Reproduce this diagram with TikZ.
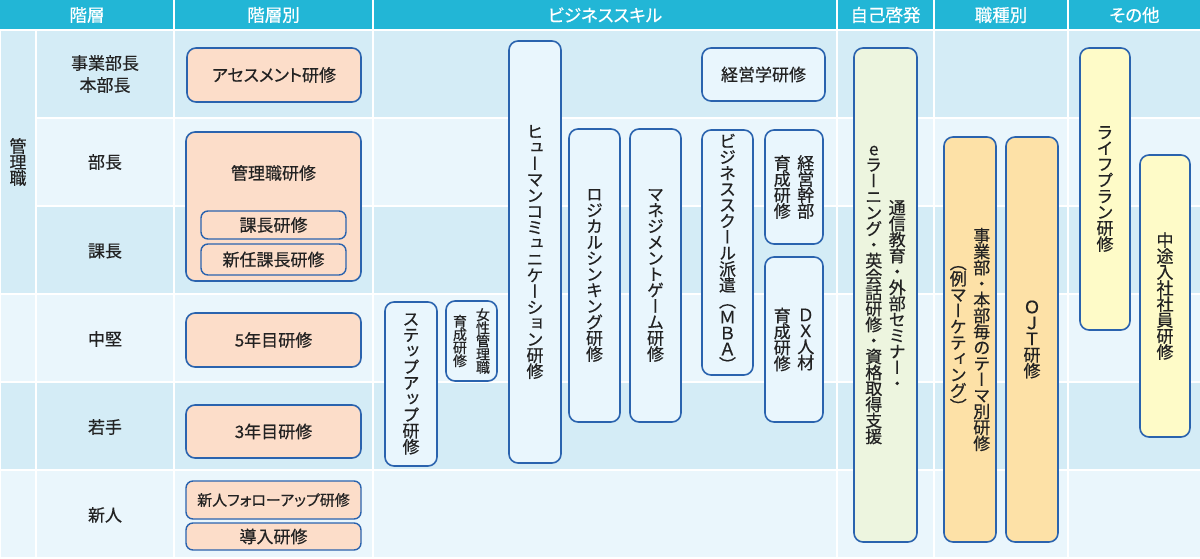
\documentclass[tikz,border=0pt]{standalone}
\usepackage{fontspec}
\setmainfont{Noto Sans CJK JP}[RawFeature=+palt,FakeBold=0.5]
\newfontfamily\tatefont{Noto Sans CJK JP}[RawFeature=+vert,FakeBold=0.5]
\usepackage{tikz}
\definecolor{hdrcyan}{HTML}{22B6D6}
\definecolor{rowdark}{HTML}{D4ECF6}
\definecolor{rowlight}{HTML}{EAF6FC}
\definecolor{lineblue}{HTML}{2A63AE}
\definecolor{peach}{HTML}{FCDDC9}
\definecolor{skyfill}{HTML}{E9F6FD}
\definecolor{greenfill}{HTML}{EDF5DF}
\definecolor{orangefill}{HTML}{FDE1A7}
\definecolor{yellowfill}{HTML}{FEFBC8}
\definecolor{inkgray}{HTML}{222222}
\makeatletter
\newcommand{\tate}[1]{\vbox{\tatefont\baselineskip=0.94em\lineskiplimit=-\maxdimen\lineskip=0pt\tate@loop#1\@nil}}
\def\tate@loop#1{\ifx\@nil#1\else\hbox to 1em{\hss#1\hss}\expandafter\tate@loop\fi}
\makeatother
\newcommand{\tatetwo}[3][6.5pt]{\hbox{$\vcenter{\tate{#3}}\hskip#1\vcenter{\tate{#2}}$}}
\newcommand{\cell}[5]{\fill[#1] (#2,#3) rectangle (#4,#5);}
\newcommand{\band}[3]{\cell{#1}{37}{#2}{173}{#3} \cell{#1}{175}{#2}{372}{#3} \cell{#1}{374}{#2}{836}{#3} \cell{#1}{838}{#2}{933}{#3} \cell{#1}{935}{#2}{1067}{#3} \cell{#1}{1069}{#2}{1200}{#3}}
\newcommand{\course}[7]{\node[course,#1,minimum width={(#5-#3)*1pt},minimum height={(#6-#4)*1pt}] (#2) at ({(#3+#5)/2},{(#4+#6)/2}) {#7};}
\tikzset{
  course/.style={draw=lineblue, line width=1.6pt, rounded corners=9pt, inner sep=0pt, text=inkgray, font=\fontsize{17}{20}\selectfont},
  subcourse/.style={line width=1.4pt, rounded corners=7pt},
  peachbox/.style={fill=peach},
  skybox/.style={fill=skyfill},
  greenbox/.style={fill=greenfill},
  orangebox/.style={fill=orangefill},
  yellowbox/.style={fill=yellowfill},
  hdrtext/.style={text=white, font=\fontsize{17.5}{20}\selectfont},
  rowtext/.style={text=inkgray, align=center, font=\fontsize{17}{22}\selectfont}
}
\begin{document}
\begin{tikzpicture}[x=1pt,y=-1pt]
  \useasboundingbox (0,0) rectangle (1200,559);
  \fill[white] (0,0) rectangle (1200,559);
  \cell{hdrcyan}{0}{0}{173}{29}
  \cell{hdrcyan}{175}{0}{372}{29}
  \cell{hdrcyan}{374}{0}{836}{29}
  \cell{hdrcyan}{838}{0}{933}{29}
  \cell{hdrcyan}{935}{0}{1067}{29}
  \cell{hdrcyan}{1069}{0}{1200}{29}
  \band{rowdark}{31}{117}
  \band{rowlight}{119}{205}
  \band{rowdark}{207}{293}
  \band{rowlight}{295}{381}
  \band{rowdark}{383}{469}
  \band{rowlight}{471}{557}
  \cell{rowdark}{1}{31}{35}{293}
  \cell{rowlight}{1}{295}{35}{381}
  \cell{rowdark}{1}{383}{35}{469}
  \cell{rowlight}{1}{471}{35}{557}

  \node[hdrtext] (h_kaiso) at (87,15) {階層};
  \node[hdrtext] (h_betsu) at (273.5,15) {階層別};
  \node[hdrtext] (h_skill) at (605,15) {ビジネススキル};
  \node[hdrtext] (h_jiko) at (885.5,15) {自己啓発};
  \node[hdrtext] (h_shoku) at (1001,15) {職種別};
  \node[hdrtext] (h_other) at (1134.5,15) {その他};

  \node[rowtext] (r_kanri) at (18,162) {\tate{管理職}};
  \node[rowtext] (r_honbu) at (105,74) {事業部長\\本部長};
  \node[rowtext] (r_bucho) at (105,162) {部長};
  \node[rowtext] (r_kacho) at (105,251) {課長};
  \node[rowtext] (r_chuken) at (105,339) {中堅};
  \node[rowtext] (r_wakate) at (105,427) {若手};
  \node[rowtext] (r_shinjin) at (105,515) {新人};

  \course{peachbox}{assess}{187}{48}{361}{102}{アセスメント研修}
  \course{peachbox}{kanri}{186}{132}{361}{281}{}
  \node[rowtext] (kanri_t) at (273.5,173) {管理職研修};
  \course{peachbox,subcourse}{kacho}{201}{211}{346}{239}{課長研修}
  \course{peachbox,subcourse}{shinnin}{201}{244}{346}{275}{新任課長研修}
  \course{peachbox}{nen5}{186}{313}{361}{367}{5年目研修}
  \course{peachbox}{nen3}{186}{405}{361}{458}{3年目研修}
  \course{peachbox,subcourse}{follow}{186}{481}{361}{519}{\fontsize{15}{18}\selectfont 新人フォローアップ研修}
  \course{peachbox,subcourse}{donyu}{186}{523}{361}{550}{導入研修}

  \course{skybox}{stepup}{385}{302}{437}{466}{\tate{ステップアップ研修}}
  \course{skybox}{josei}{446}{301}{497}{381}{\fontsize{14}{15}\selectfont\tatetwo[9pt]{女性管理職}{育成研修}}
  \course{skybox}{human}{509}{41}{561}{463}{\tate{ヒューマンコミュニケーション研修}}
  \course{skybox}{logic}{569}{129}{620}{422}{\tate{ロジカルシンキング研修}}
  \course{skybox}{mgame}{630}{129}{681}{422}{\tate{マネジメントゲーム研修}}
  \course{skybox}{mba}{702}{130}{753}{375}{\tate{ビジネススクール派遣（ＭＢＡ）}}
  \course{skybox}{keiei}{702}{48}{825}{101}{経営学研修}
  \course{skybox}{kanbu}{765}{130}{823}{244}{\tatetwo{経営幹部}{育成研修}}
  \course{skybox}{dxjin}{765}{257}{823}{422}{\tatetwo{ＤＸ人材}{育成研修}}

  \course{greenbox}{jiko}{854}{48}{917}{542}{\tatetwo{通信教育・外部セミナー・}{eラーニング・英会話研修・資格取得支援}}
  \course{orangebox}{theme}{944}{137}{996}{542}{\tatetwo{事業部・本部毎のテーマ別研修}{（例マーケティング）}}
  \course{orangebox}{ojt}{1006}{137}{1058}{542}{\tate{ＯＪＴ研修}}
  \course{yellowbox}{life}{1080}{48}{1130}{330}{\tate{ライフプラン研修}}
  \course{yellowbox}{chuto}{1140}{155}{1190}{437}{\tate{中途入社社員研修}}
\end{tikzpicture}
\end{document}
